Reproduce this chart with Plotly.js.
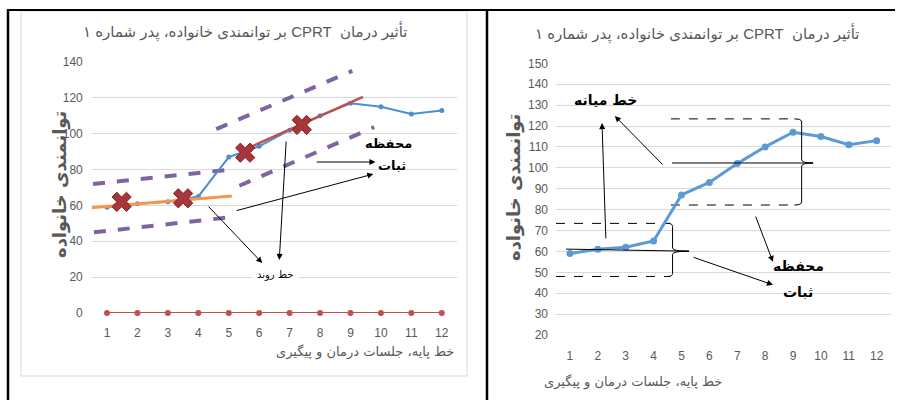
<!DOCTYPE html>
<html>
<head>
<meta charset="utf-8">
<script src="https://cdn.plot.ly/plotly-3.0.1.min.js"></script>
<style>html,body{margin:0;padding:0;background:#fff;} #chart{width:901px;height:400px;}</style>
</head>
<body>
<div id="chart"></div>
<script>
// ---- data ----
const sessions = [1,2,3,4,5,6,7,8,9,10,11,12];
const fatherScores = [59,61,62,65,87,93,102,110,117,115,111,113];
const zeroSeries = [0,0,0,0,0,0,0,0,0,0,0,0];
const tickLabels = ['1','2','3','4','5','6','7','8','9','10','11','12'];

// left chart: trend lines & stability bands
const baseTrendX = [0.44, 5.1],  baseTrendY = [58.6, 65.3];
const treatTrendX = [5.64, 9.41], treatTrendY = [92, 120.6];
const bandAUpX = [0.54, 5.08], bandAUpY = [72, 80];
const bandALoX = [0.57, 5.1],  bandALoY = [45, 53.5];
const bandBUpX = [4.59, 9.06], bandBUpY = [102.6, 135];
const bandBLoX = [5.35, 9.78], bandBLoY = [71, 103.7];
const crossX = [1.48, 3.5, 5.54, 7.4];
const crossY = [62, 64, 89.4, 104.9];

// right chart: median & envelope lines
const medLoX = [0.86, 5.27], medLoY = [61.1, 60.1];
const envLoX = [0.5, 4.6],   envLoTop = [73.4, 73.4], envLoBot = [48, 48];
const medHiX = [4.66, 9.72], medHiY = [102.3, 102.3];
const envHiX = [4.62, 9.15], envHiTop = [123.4, 123.4], envHiBot = [82.2, 82.2];

const rtl = s => '\u202B' + s + '\u202C';
const titleText = 'تأثیر درمان  CPRT بر توانمندی خانواده، پدر شماره ۱';
const yTitleText = 'توانمندی خانواده';
const xTitleText = 'خط پایه، جلسات درمان و پیگیری';

const W = 901, H = 400;
const px = v => v / W, py = v => 1 - v / H;
const tickFont = {family: 'Liberation Sans Narrow, Arial Narrow, Liberation Sans, sans-serif', size: 12, color: '#595959'};

const traces = [
  // left chart
  {x: bandAUpX, y: bandAUpY, mode: 'lines', line: {color: '#8064a2', width: 4, dash: 'dash'}, xaxis: 'x', yaxis: 'y'},
  {x: bandALoX, y: bandALoY, mode: 'lines', line: {color: '#8064a2', width: 4, dash: 'dash'}, xaxis: 'x', yaxis: 'y'},
  {x: bandBUpX, y: bandBUpY, mode: 'lines', line: {color: '#8064a2', width: 4, dash: 'dash'}, xaxis: 'x', yaxis: 'y'},
  {x: bandBLoX, y: bandBLoY, mode: 'lines', line: {color: '#8064a2', width: 4, dash: 'dash'}, xaxis: 'x', yaxis: 'y'},
  {x: sessions, y: fatherScores, mode: 'lines+markers', line: {color: '#4a8fd6', width: 2}, marker: {size: 5, color: '#4a8fd6'}, xaxis: 'x', yaxis: 'y'},
  {x: baseTrendX, y: baseTrendY, mode: 'lines', line: {color: '#f79646', width: 3}, xaxis: 'x', yaxis: 'y'},
  {x: treatTrendX, y: treatTrendY, mode: 'lines', line: {color: '#c0504d', width: 2.5}, xaxis: 'x', yaxis: 'y'},
  {x: crossX, y: crossY, mode: 'markers', marker: {symbol: 'x', size: 17, color: '#a8353a', line: {color: '#7a2226', width: 1}}, xaxis: 'x', yaxis: 'y'},
  {x: sessions, y: zeroSeries, mode: 'lines+markers', line: {color: '#c0504d', width: 2}, marker: {size: 6, color: '#c0504d'}, cliponaxis: false, xaxis: 'x', yaxis: 'y'},
  // right chart
  {x: envLoX, y: envLoTop, mode: 'lines', line: {color: '#000', width: 1, dash: 'dash'}, xaxis: 'x2', yaxis: 'y2'},
  {x: envLoX, y: envLoBot, mode: 'lines', line: {color: '#000', width: 1, dash: 'dash'}, xaxis: 'x2', yaxis: 'y2'},
  {x: envHiX, y: envHiTop, mode: 'lines', line: {color: '#000', width: 1, dash: 'dash'}, xaxis: 'x2', yaxis: 'y2'},
  {x: envHiX, y: envHiBot, mode: 'lines', line: {color: '#000', width: 1, dash: 'dash'}, xaxis: 'x2', yaxis: 'y2'},
  {x: sessions, y: fatherScores, mode: 'lines+markers', line: {color: '#5b9bd5', width: 3}, marker: {size: 7, color: '#5b9bd5'}, xaxis: 'x2', yaxis: 'y2'},
  {x: medLoX, y: medLoY, mode: 'lines', line: {color: '#000', width: 1}, xaxis: 'x2', yaxis: 'y2'},
  {x: medHiX, y: medHiY, mode: 'lines', line: {color: '#000', width: 1}, xaxis: 'x2', yaxis: 'y2'}
];

function bracePath(x0, xh, xt, yt, ym, yb, d) {
  return `M ${xh},${yt} Q ${x0},${yt} ${x0},${yt - d} L ${x0},${ym + d} Q ${x0},${ym} ${xt},${ym} ` +
         `Q ${x0},${ym} ${x0},${ym - d} L ${x0},${yb + d} Q ${x0},${yb} ${xh},${yb}`;
}

const shapes = [
  {type: 'rect', xref: 'paper', yref: 'paper', x0: px(21), x1: px(467), y0: py(376), y1: py(11), line: {color: '#d9d9d9', width: 1}},
  {type: 'line', xref: 'paper', yref: 'paper', x0: px(7), x1: px(895), y0: py(10), y1: py(10), line: {color: '#000', width: 2}},
  {type: 'line', xref: 'paper', yref: 'paper', x0: px(8), x1: px(8), y0: py(9), y1: 0, line: {color: '#000', width: 2.5}},
  {type: 'line', xref: 'paper', yref: 'paper', x0: px(487), x1: px(487), y0: py(9), y1: 0, line: {color: '#000', width: 2.5}},
  {type: 'path', xref: 'x2', yref: 'y2', path: bracePath(envLoX[1] + 0.08, envLoX[1] - 0.1, medLoX[1], envLoTop[0], medLoY[1], envLoBot[0], 1.5), line: {color: '#000', width: 1}},
  {type: 'path', xref: 'x2', yref: 'y2', path: bracePath(envHiX[1] + 0.16, envHiX[1] - 0.1, medHiX[1], envHiTop[0], medHiY[0], envHiBot[0], 1.5), line: {color: '#000', width: 1}}
];

function arrow(xr, yr, x, y, ax, ay) {
  return {xref: xr, yref: yr, axref: xr, ayref: yr, x: x, y: y, ax: ax, ay: ay, text: '', showarrow: true,
          arrowhead: 2, arrowsize: 1.2, arrowwidth: 1, arrowcolor: '#000'};
}
const boldFont = {family: 'DejaVu Sans, Noto Sans, sans-serif', size: 13, color: '#000', weight: 'bold'};
const titleFont = {family: 'Liberation Sans, DejaVu Sans, sans-serif', size: 15, color: '#595959'};
const yTitleFont = {family: 'DejaVu Sans, sans-serif', size: 18, color: '#595959', weight: 'bold'};
const xTitleFont = {family: 'DejaVu Sans, sans-serif', size: 13, color: '#595959'};
const annotations = [
  // titles
  {xref: 'paper', yref: 'paper', x: px(245), y: py(32), yanchor: 'middle', xanchor: 'center', text: rtl(titleText), showarrow: false, font: titleFont},
  {xref: 'paper', yref: 'paper', x: px(697), y: py(33), yanchor: 'middle', xanchor: 'center', text: rtl(titleText), showarrow: false, font: titleFont},
  {xref: 'paper', yref: 'paper', x: px(47), y: py(185), text: rtl(yTitleText), textangle: -90, showarrow: false, font: yTitleFont},
  {xref: 'paper', yref: 'paper', x: px(514), y: py(188), text: rtl(yTitleText), textangle: -90, showarrow: false, font: yTitleFont},
  {xref: 'paper', yref: 'paper', x: px(274), y: py(352), yanchor: 'middle', text: rtl(xTitleText), showarrow: false, font: xTitleFont},
  {xref: 'paper', yref: 'paper', x: px(724), y: py(382), yanchor: 'middle', text: rtl(xTitleText), showarrow: false, font: xTitleFont},
  // left chart notes
  {xref: 'x', yref: 'y', x: 10.24, y: 94.3, text: rtl('محفظه'), showarrow: false, font: boldFont},
  {xref: 'x', yref: 'y', x: 10.38, y: 82.5, text: rtl('ثبات'), showarrow: false, font: boldFont},
  {xref: 'x', yref: 'y', x: 6.53, y: 21.2, text: rtl('خط روند'), showarrow: false, bgcolor: '#fff', borderpad: 4, font: {family: 'DejaVu Sans, sans-serif', size: 10, color: '#000'}},
  arrow('x', 'y', 9.82, 84.2, 7.84, 84.2),
  arrow('x', 'y', 9.75, 77.5, 5.21, 56.9),
  arrow('x', 'y', 6.1, 27.9, 4.29, 60.2),
  arrow('x', 'y', 6.66, 29.6, 6.89, 96.5),
  // right chart notes
  {xref: 'x2', yref: 'y2', x: 2.26, y: 132.4, text: rtl('خط میانه'), showarrow: false, font: {family: 'DejaVu Sans, sans-serif', size: 14, color: '#000', weight: 'bold'}},
  {xref: 'x2', yref: 'y2', x: 9.18, y: 53, text: rtl('محفظه'), showarrow: false, font: {family: 'DejaVu Sans, sans-serif', size: 14, color: '#000', weight: 'bold'}},
  {xref: 'x2', yref: 'y2', x: 9.18, y: 40.6, text: rtl('ثبات'), showarrow: false, font: {family: 'DejaVu Sans, sans-serif', size: 14, color: '#000', weight: 'bold'}},
  arrow('x2', 'y2', 2.15, 121.4, 2.29, 65.5),
  arrow('x2', 'y2', 2.61, 124.8, 4.37, 100.9),
  arrow('x2', 'y2', 8.28, 55, 7.64, 77.4),
  arrow('x2', 'y2', 8.28, 44, 5.38, 57.4)
];

const axisX = {range: [0.5, 12.5], tickvals: sessions, ticktext: tickLabels, showgrid: false, zeroline: false, showline: false, ticks: '', tickfont: tickFont, fixedrange: true};
const layout = {
  width: W, height: H, margin: {l: 0, r: 0, t: 0, b: 0},
  paper_bgcolor: '#fff', plot_bgcolor: 'rgba(0,0,0,0)', showlegend: false,
  xaxis: Object.assign({}, axisX, {domain: [px(91.8), px(457)], anchor: 'y', ticklabelstandoff: 11}),
  yaxis: {domain: [py(313), py(62)], range: [0, 140], dtick: 20, anchor: 'x', gridcolor: '#d9d9d9', zeroline: false, showline: false, ticks: '', tickfont: tickFont, ticklabelstandoff: 8},
  xaxis2: Object.assign({}, axisX, {domain: [px(556), px(890.6)], anchor: 'y2', ticklabelstandoff: 12}),
  yaxis2: {domain: [py(335), py(63.3)], range: [20, 150], dtick: 10, anchor: 'x2', gridcolor: '#d9d9d9', zeroline: false, showline: false, ticks: '', tickfont: tickFont, ticklabelstandoff: 7},
  shapes: shapes, annotations: annotations
};
Plotly.newPlot('chart', traces, layout, {displayModeBar: false, staticPlot: true});
</script>
</body>
</html>
